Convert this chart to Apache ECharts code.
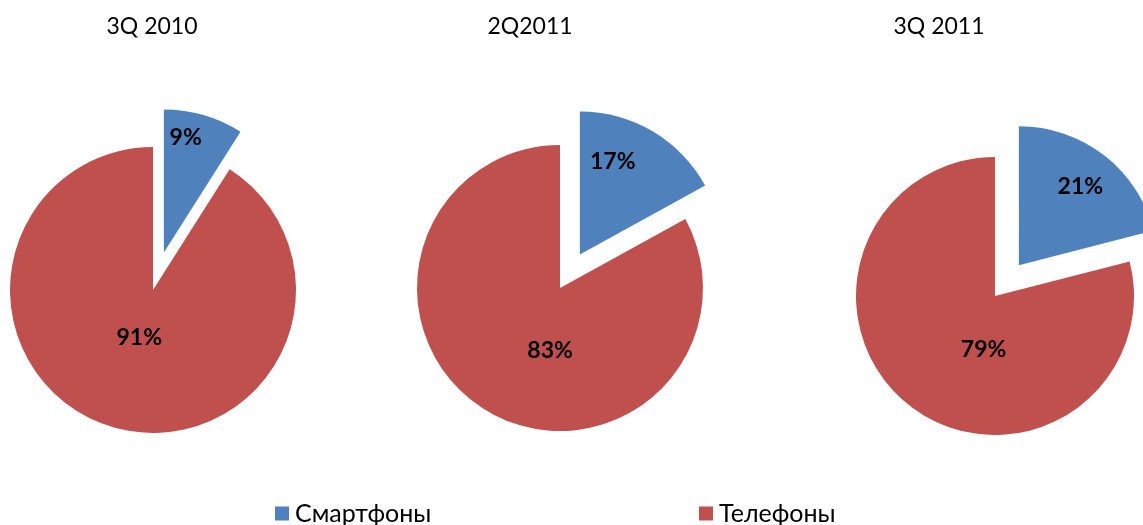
<!DOCTYPE html>
<html>
<head>
<meta charset="utf-8">
<script src="https://cdn.jsdelivr.net/npm/echarts@6/dist/echarts.min.js"></script>
<style>
  html, body { margin: 0; padding: 0; background: #fff; }
  #chart { width: 1143px; height: 525px; }
</style>
</head>
<body>
<div id="chart"></div>
<script>
var categories = ['Смартфоны', 'Телефоны'];
var periods = ['3Q 2010', '2Q2011', '3Q 2011'];
var smartphones = [9, 17, 21];
var phones = [91, 83, 79];

var colors = ['#4F81BD', '#C0504D'];
var font = 'Lato, "Open Sans", sans-serif';

// layout of each pie
var centers = [[153, 290], [560, 288], [995, 296]];
var radii = [143, 143, 139];
var titleX = [152, 530, 939];
// label nudges to match the original placement
var labelShift = [
  [[1, -43], [7, -24]],
  [[-5, -29], [28, -2]],
  [[17, -21], [33, -4]]
];

var chartDom = document.getElementById('chart');
var myChart = echarts.init(chartDom);

var titles = periods.map(function (p, i) {
  return {
    text: p,
    left: titleX[i],
    top: 15,
    padding: 0,
    textAlign: 'center',
    textStyle: { fontFamily: font, fontSize: 23, fontWeight: 'normal', color: '#000' }
  };
});

var series = periods.map(function (p, i) {
  return {
    name: p,
    type: 'pie',
    center: centers[i],
    radius: radii[i],
    startAngle: 90,
    clockwise: true,
    selectedMode: 'single',
    selectedOffset: 39,
    animation: false,
    emphasis: { disabled: true },
    label: {
      position: 'inside',
      formatter: '{c}%',
      fontFamily: font,
      fontSize: 23,
      fontWeight: 'bold',
      color: '#000'
    },
    labelLayout: function (params) {
      var s = labelShift[i][params.dataIndex];
      return { dx: s[0], dy: s[1] };
    },
    data: [
      { name: categories[0], value: smartphones[i], selected: true, itemStyle: { color: colors[0] } },
      { name: categories[1], value: phones[i], itemStyle: { color: colors[1] } }
    ]
  };
});

function legendAt(name, x) {
  return {
    data: [name],
    left: x,
    top: 501,
    padding: 0,
    icon: 'rect',
    itemWidth: 14,
    itemHeight: 14,
    selectedMode: false,
    textStyle: { fontFamily: font, fontSize: 25, color: '#000', padding: [0, 0, 0, 1] }
  };
}

var option = {
  backgroundColor: '#fff',
  title: titles,
  legend: [legendAt(categories[0], 275), legendAt(categories[1], 699)],
  series: series
};

option && myChart.setOption(option);
</script>
</body>
</html>
